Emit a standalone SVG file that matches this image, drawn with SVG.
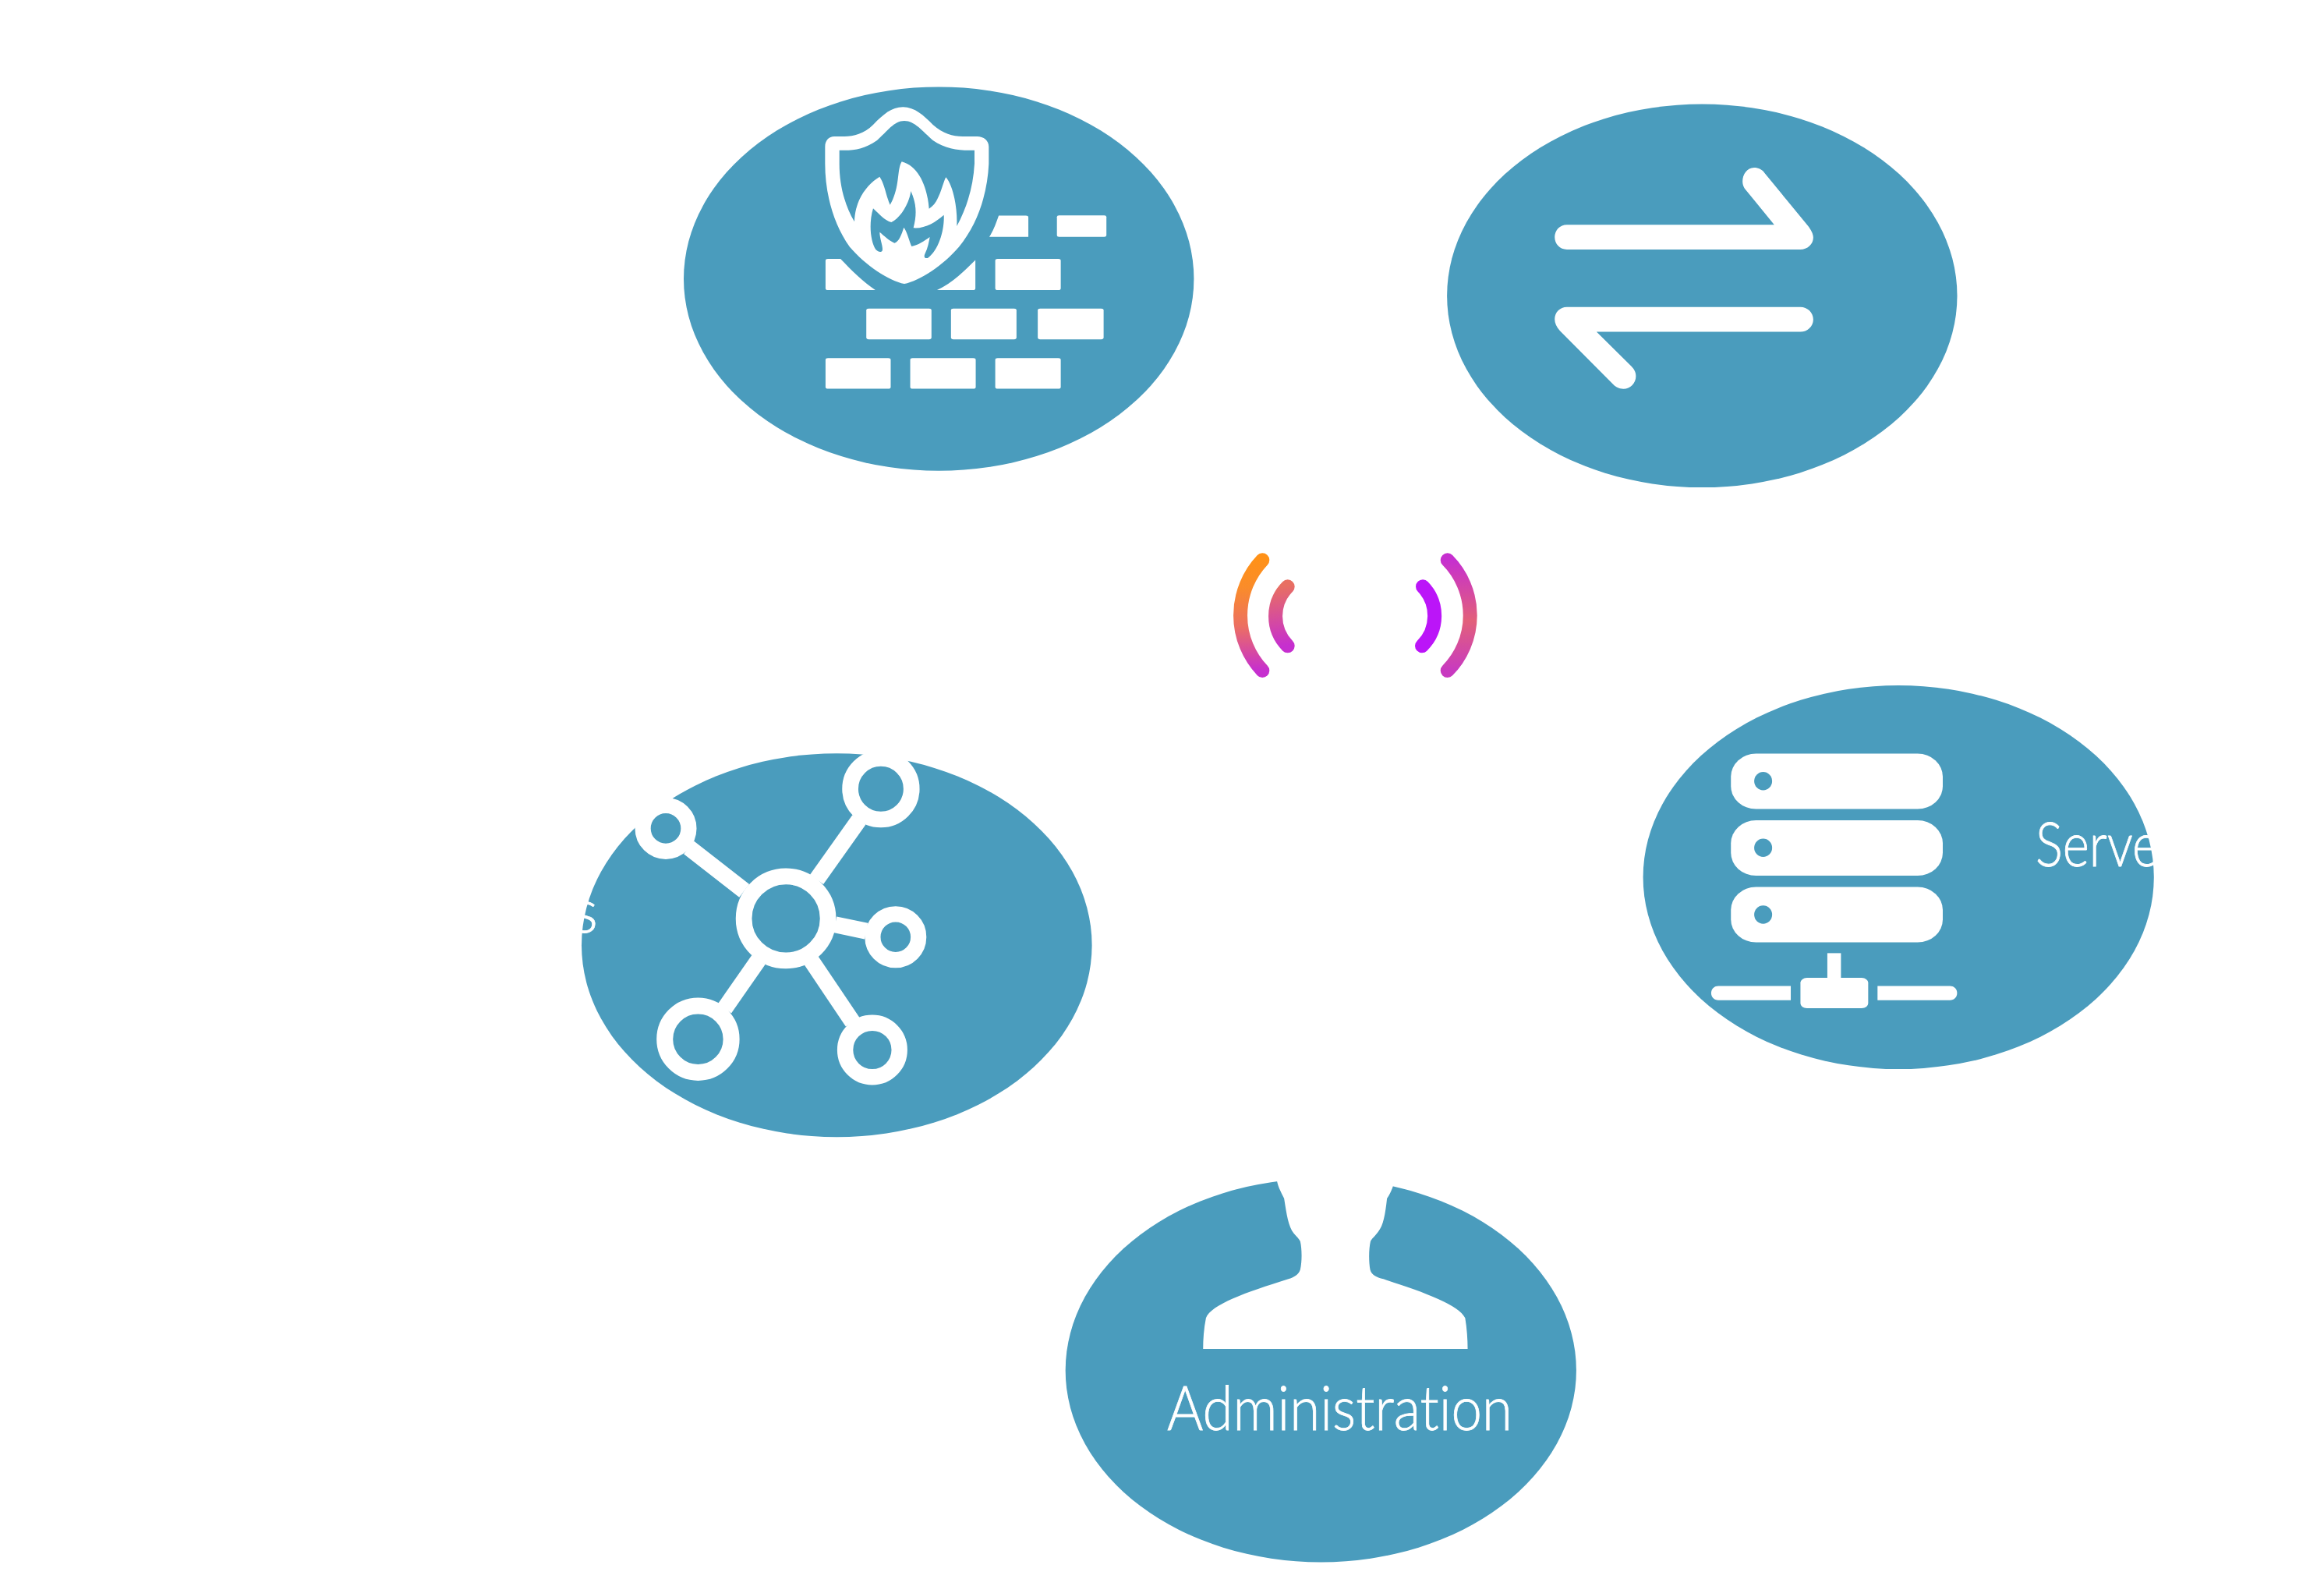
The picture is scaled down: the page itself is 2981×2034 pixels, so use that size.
<svg xmlns="http://www.w3.org/2000/svg" width="2981" height="2034" viewBox="0 0 2981 2034">
<style>
.bubble{fill:#4a9cbd}
.icon{fill:#fff;fill-rule:evenodd}
.hole{fill:#4a9cbd}
.ring{fill:none;stroke:#fff}
.spoke{stroke:#fff;stroke-width:21;fill:none}
.label{font-family:"Lato","Open Sans","Liberation Sans",sans-serif;font-weight:300;font-size:78px;fill:#fff;stroke:#fff;stroke-width:.8;font-variant-ligatures:none}
.wave{fill:none;stroke-width:18;stroke-linecap:round}
</style>
<defs>
<linearGradient id="waveLO" gradientUnits="userSpaceOnUse" x1="1620" y1="718" x2="1620" y2="860"><stop offset="0" stop-color="#ff9118"/><stop offset=".25" stop-color="#fa8c2a"/><stop offset=".6" stop-color="#ec6f62"/><stop offset="1" stop-color="#c62fcf"/></linearGradient>
<linearGradient id="waveLI" gradientUnits="userSpaceOnUse" x1="1640" y1="752" x2="1650" y2="828"><stop offset="0" stop-color="#e86f62"/><stop offset="1" stop-color="#c62fcf"/></linearGradient>
<linearGradient id="waveRO" gradientUnits="userSpaceOnUse" x1="1860" y1="718" x2="1860" y2="860"><stop offset="0" stop-color="#c62fcf"/><stop offset=".55" stop-color="#e2607a"/><stop offset="1" stop-color="#c83ac0"/></linearGradient>
</defs>
<rect width="2981" height="2034" fill="#fff"/>

<g id="firewall">
<ellipse class="bubble" cx="1204.2" cy="357.6" rx="327.2" ry="246.2"/>
<g class="icon" transform="translate(1040 130) scale(.3333)">
<path d="M55 175C55 150 70 135 90 135L130 135C165 135 205 125 240 90C280 50 310 22 355 22C400 22 435 55 470 90C510 125 545 135 585 135L640 135C665 135 685 150 685 175L685 240C680 350 645 470 570 560C510 630 420 690 360 702C300 690 210 630 150 560C85 470 55 350 55 240Z
M110 188C165 190 205 185 255 150C295 115 320 75 360 75C400 75 430 115 470 150C520 185 575 190 630 188L630 240C625 330 600 410 562 480C565 400 545 320 520 292C505 320 495 390 455 413C450 340 420 250 350 232C330 265 345 330 305 398C290 365 285 320 265 290C215 320 170 380 168 463C130 400 110 320 110 240Z
M240 412C260 430 285 460 310 465C345 450 380 390 385 345C405 390 410 430 395 487C440 490 480 465 512 437C515 490 495 570 450 603C435 605 435 595 440 585C450 565 455 540 458 522C440 535 410 555 388 558C380 540 370 500 358 485C350 510 340 540 322 545C300 535 280 515 265 503C265 530 280 560 275 575C270 582 260 580 250 570C230 540 222 470 240 412Z"/>
</g>
<g class="icon" transform="translate(860 90) scale(.447 .3448)">
<path d="M942 541H1020Q1027 541 1027 548V620H915C928 595 935 565 942 541Z"/>
<rect x="1109" y="540" width="142" height="80" rx="6"/>
<path d="M452 702H488C520 745 555 790 588 818H452Q445 818 445 811V709Q445 702 452 702Z"/>
<path d="M875 706V811Q875 818 868 818H765C810 790 845 745 875 706Z"/>
<rect x="932" y="702" width="188" height="116" rx="7"/>
<rect x="562" y="887" width="187" height="114" rx="7"/>
<rect x="805" y="887" width="188" height="114" rx="7"/>
<rect x="1054" y="887" width="189" height="114" rx="7"/>
<rect x="445" y="1071" width="187" height="114" rx="7"/>
<rect x="688" y="1071" width="188" height="114" rx="7"/>
<rect x="932" y="1071" width="188" height="114" rx="7"/>
</g>
</g>

<g id="exchange">
<ellipse class="bubble" cx="2183.3" cy="379.3" rx="327.2" ry="245.8"/>
<g class="icon" transform="translate(1840 120.5) scale(.447 .332)">
<path d="M380 505L975 505L890 365C875 335 890 285 917 285C930 285 940 292 947 305L1072 510C1080 525 1087 540 1087 555C1087 580 1070 601 1050 601L380 601C360 601 345 580 345 553C345 526 360 505 380 505Z"/>
<path d="M380 823L1050 823C1070 823 1087 844 1087 871C1087 898 1070 919 1050 919L465 919L565 1052C575 1066 578 1078 578 1090C578 1117 562 1139 542 1139C530 1139 520 1132 513 1122L360 915C350 900 345 885 345 870C345 844 360 823 380 823Z"/>
</g>
</g>

<g id="wireless">
<path class="wave" stroke="url(#waveLO)" d="M1619.3 718.3A103 103 0 0 0 1619.3 860"/>
<path class="wave" stroke="url(#waveLI)" d="M1651.7 752.3A54 54 0 0 0 1651.7 828.3"/>
<path class="wave" stroke="#bb15f8" d="M1825 752.3A54 54 0 0 1 1824 828.3"/>
<path class="wave" stroke="url(#waveRO)" d="M1856.7 718.3A101 101 0 0 1 1856.7 860"/>
</g>

<g id="network">
<ellipse class="bubble" cx="1073.3" cy="1212.2" rx="327.3" ry="246"/>
<line class="spoke" x1="1047.6" y1="1127.9" x2="1101.9" y2="1051.4"/>
<line class="spoke" x1="954.7" y1="1142.4" x2="883.5" y2="1086.9"/>
<line class="spoke" x1="1071.1" y1="1185.8" x2="1111.1" y2="1194.1"/>
<line class="spoke" x1="973.1" y1="1230.7" x2="929.4" y2="1293.4"/>
<line class="spoke" x1="1040.7" y1="1232" x2="1093.6" y2="1310.6"/>
<circle class="ring" stroke-width="20.7" cx="1008.1" cy="1177.9" r="54"/>
<circle class="ring" stroke-width="20.7" cx="1129.9" cy="1011.7" r="39.3"/>
<circle class="ring" stroke-width="20.2" cx="854" cy="1062.4" r="29.4"/>
<circle class="ring" stroke-width="20.2" cx="1148.8" cy="1201.7" r="29.4"/>
<circle class="ring" stroke-width="21" cx="895.4" cy="1332.7" r="42.7"/>
<circle class="ring" stroke-width="20.4" cx="1118.9" cy="1346.5" r="34.8"/>
<text class="label" x="767" y="1196" text-anchor="end">s</text>
</g>

<g id="servers">
<ellipse class="bubble" cx="2435.2" cy="1125.1" rx="327.6" ry="246"/>
<g class="icon" transform="translate(2080 860) scale(.4598 .3448)">
<rect x="305" y="309" width="591" height="206" rx="70" ry="85"/>
<rect x="305" y="557" width="591" height="206" rx="70" ry="85"/>
<rect x="305" y="805" width="591" height="206" rx="70" ry="85"/>
<ellipse class="hole" cx="395" cy="411" rx="25" ry="34"/>
<ellipse class="hole" cx="395" cy="659" rx="25" ry="34"/>
<ellipse class="hole" cx="395" cy="908" rx="25" ry="34"/>
<rect x="574" y="1051" width="38" height="100"/>
<rect x="499" y="1143" width="189" height="113" rx="18"/>
<path d="M472 1173H270C258 1173 250 1185 250 1199C250 1214 258 1226 270 1226H472Z"/>
<path d="M714 1173H916C928 1173 936 1185 936 1199C936 1214 928 1226 916 1226H714Z"/>
</g>
<text class="label" x="2611" y="1111" textLength="158" lengthAdjust="spacingAndGlyphs">Serve</text>
</g>

<g id="administration">
<ellipse class="bubble" cx="1694.3" cy="1757.4" rx="327.6" ry="246"/>
<g class="icon" transform="translate(1340 1480) scale(.4598 .3448)">
<path d="M648 0V100C652 125 660 145 668 165C675 225 680 270 695 295C703 308 710 315 713 325C718 355 718 400 713 430C708 450 695 458 680 465C560 515 465 560 450 610C444 650 442 690 442 725H1180C1180 690 1178 650 1173 610C1155 560 1060 515 945 465C925 458 912 450 908 430C904 400 904 355 909 325C912 315 922 305 930 290C945 265 950 225 955 165C963 150 968 135 972 118V0Z"/>
</g>
<text class="label" x="1497" y="1833.5" textLength="443" lengthAdjust="spacingAndGlyphs">Administration</text>
</g>
</svg>
